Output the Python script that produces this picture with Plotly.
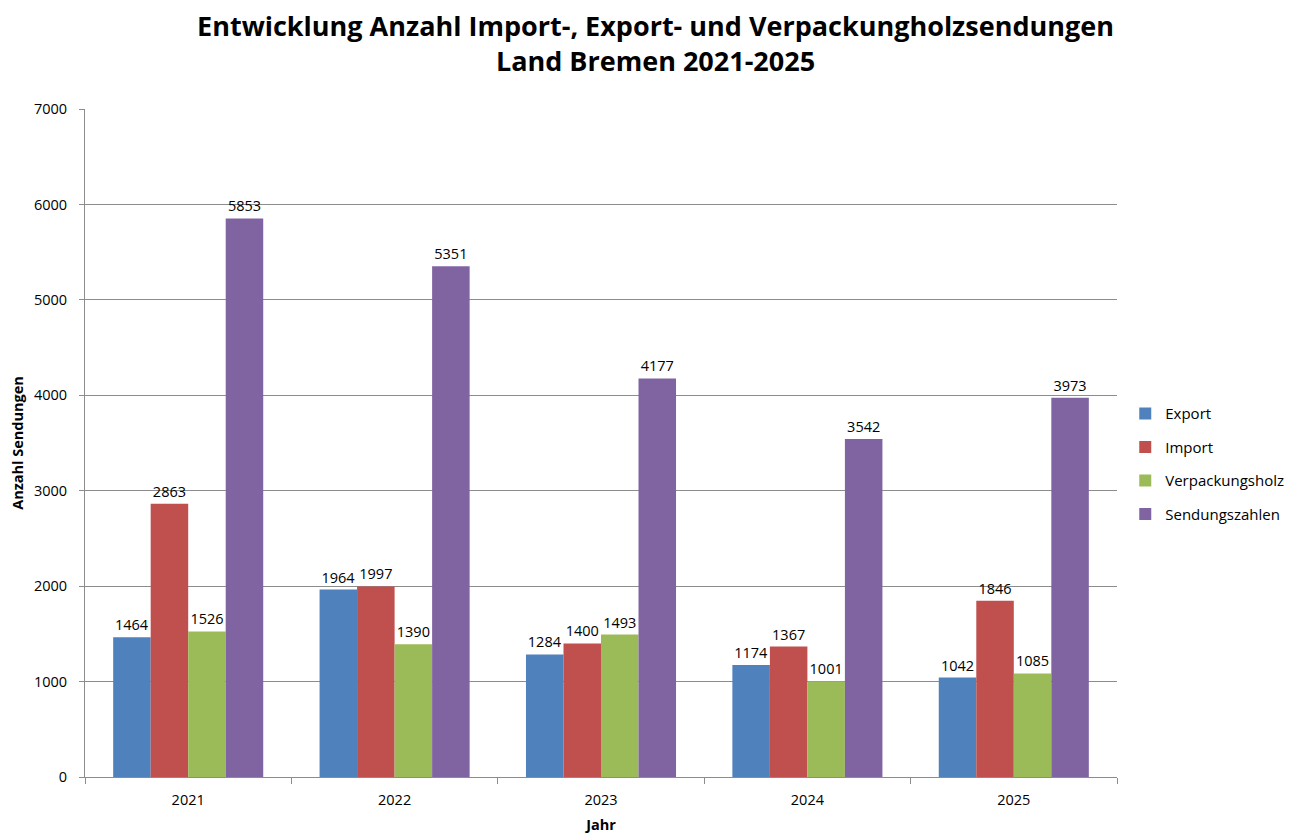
import plotly.graph_objects as go

years = ["2021", "2022", "2023", "2024", "2025"]
export_vals = [1464, 1964, 1284, 1174, 1042]
import_vals = [2863, 1997, 1400, 1367, 1846]
holz_vals = [1526, 1390, 1493, 1001, 1085]
sendung_vals = [5853, 5351, 4177, 3542, 3973]

series = [
    ("Export", export_vals, "#4F81BD"),
    ("Import", import_vals, "#C0504D"),
    ("Verpackungsholz", holz_vals, "#9BBB59"),
    ("Sendungszahlen", sendung_vals, "#8064A2"),
]

FONT = "Open Sans, sans-serif"
fig = go.Figure()
for name, vals, col in series:
    fig.add_trace(go.Bar(
        x=years, y=vals, name=name, marker_color=col, marker_line_width=0,
        legendgroup=name,
        text=[str(v) for v in vals], textposition="outside", cliponaxis=False,
        textfont=dict(size=14.5, color="#000000", family=FONT),
    ))

# page has an 8px body margin, so the figure is 8px smaller than the window
fig.update_layout(
    width=1295, height=828,
    paper_bgcolor="white", plot_bgcolor="white",
    barmode="group", bargap=0.273, bargroupgap=0,
    margin=dict(l=77, r=186, t=101, b=59, autoexpand=False),
    title=dict(
        text="<b>Entwicklung Anzahl Import-, Export- und Verpackungholzsendungen<br>Land Bremen 2021-2025</b>",
        x=0.5, xanchor="center", y=0.966, yanchor="top",
        font=dict(size=27, family=FONT, color="#000000"),
    ),
    legend=dict(
        x=1.008, xanchor="left", y=0.469, yanchor="middle",
        font=dict(size=15, family=FONT, color="#000000"),
        tracegroupgap=11, itemwidth=30,
    ),
)
fig.update_yaxes(
    range=[0, 7000], dtick=1000, showgrid=True, gridcolor="#8c8c8c", gridwidth=1,
    showline=True, linecolor="#8c8c8c", ticks="outside", ticklen=5, tickcolor="#8c8c8c",
    ticklabelstandoff=9,
    tickfont=dict(size=14.5, family=FONT, color="#000000"),
    title=dict(text="<b>Anzahl Sendungen</b>", font=dict(size=14.5, family=FONT, color="#000000"), standoff=10),
    zeroline=False, automargin=False,
)
fig.update_xaxes(
    showline=True, linecolor="#8c8c8c", ticks="outside", ticklen=6, tickcolor="#8c8c8c",
    tickson="boundaries", automargin=False, ticklabelstandoff=10,
    tickfont=dict(size=14.5, family=FONT, color="#000000"),
    title=dict(text="<b>Jahr</b>", font=dict(size=14.5, family=FONT, color="#000000"), standoff=11),
)
fig.write_html("out.html")
